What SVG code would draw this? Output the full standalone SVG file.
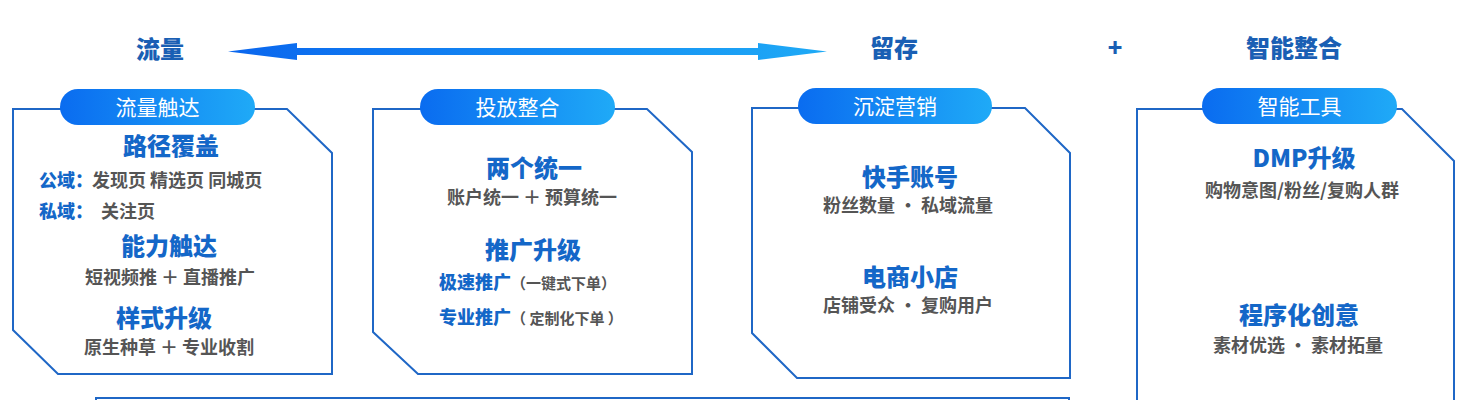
<svg xmlns="http://www.w3.org/2000/svg" width="1467" height="400" viewBox="0 0 1467 400">
<defs>
<linearGradient id="pillGrad" x1="0" y1="0" x2="1" y2="0">
<stop offset="0" stop-color="#0a6cf0"/>
<stop offset="1" stop-color="#1faaf7"/>
</linearGradient>
<linearGradient id="arrowGrad" x1="228" y1="0" x2="827" y2="0" gradientUnits="userSpaceOnUse">
<stop offset="0" stop-color="#0a66ee"/>
<stop offset="1" stop-color="#1eaaf6"/>
</linearGradient>
<style>
text{font-family:"Noto Sans CJK SC","Noto Sans",sans-serif;}
.title{font-size:24px;font-weight:900;fill:#1a5fb4;text-anchor:middle;}
.box{fill:#fff;stroke:#1f67c6;stroke-width:2;}
.pill{fill:url(#pillGrad);}
.pilltxt{font-size:21px;fill:#fff;text-anchor:middle;}
.h{font-size:24px;font-weight:900;fill:#1467c8;text-anchor:middle;}
.s{font-size:18px;font-weight:bold;fill:#555;text-anchor:middle;}
.sl{font-size:18px;font-weight:bold;fill:#555;}
.bl{font-size:18px;font-weight:900;fill:#1467c8;}
.sm{font-size:15px;font-weight:bold;fill:#555;}
</style>
</defs>
<rect width="1467" height="400" fill="#fff"/>

<g id="titles">
<text class="title" x="160" y="58">流量</text>
<text class="title" x="894" y="57">留存</text>
<text class="title" x="1115" y="57">+</text>
<text class="title" x="1294" y="57">智能整合</text>
</g>

<g id="connectors">
<polygon fill="url(#arrowGrad)" points="228,51.5 297,43 297,48 758,48 758,43 827,51.5 758,60 758,55 297,55 297,60"/>
</g>

<g id="bottom-box">
<path d="M96,402 L96,398 L1069,398 L1069,402" fill="none" stroke="#1f67c6" stroke-width="2"/>
</g>

<g id="node-liuliang">
<path class="box" d="M13,109 L287,109 L332,153 L332,374 L58,374 L13,330 Z"/>
<rect class="pill" x="60" y="89" width="195" height="36" rx="18"/>
<text class="pilltxt" x="157.5" y="114.5">流量触达</text>
<text class="h" x="171" y="155">路径覆盖</text>
<text class="bl" x="39" y="187">公域：</text>
<text class="sl" x="92" y="187">发现页 精选页 同城页</text>
<text class="bl" x="39" y="218">私域：</text>
<text class="sl" x="101" y="218">关注页</text>
<text class="h" x="169" y="255">能力触达</text>
<text class="s" x="170" y="284">短视频推 ＋ 直播推广</text>
<text class="h" x="164" y="327">样式升级</text>
<text class="s" x="169" y="354">原生种草 ＋ 专业收割</text>
</g>

<g id="node-toufang">
<path class="box" d="M373,109 L647,109 L692,152 L692,374 L418,374 L373,332 Z"/>
<rect class="pill" x="420" y="89" width="195" height="36" rx="18"/>
<text class="pilltxt" x="517.5" y="114.5">投放整合</text>
<text class="h" x="534" y="177">两个统一</text>
<text class="s" x="532" y="204">账户统一 ＋ 预算统一</text>
<text class="h" x="533" y="259">推广升级</text>
<text x="439" y="289"><tspan class="bl">极速推广</tspan><tspan class="sm">（一键式下单）</tspan></text>
<text x="439" y="324"><tspan class="bl">专业推广</tspan><tspan class="sm">（ 定制化下单 ）</tspan></text>
</g>

<g id="node-chendian">
<path class="box" d="M752,108 L1025,108 L1070,153 L1070,378 L797,378 L752,333 Z"/>
<rect class="pill" x="798" y="88" width="194" height="36" rx="18"/>
<text class="pilltxt" x="895" y="113.5">沉淀营销</text>
<text class="h" x="910" y="186">快手账号</text>
<text class="s" x="908" y="212">粉丝数量 • 私域流量</text>
<text class="h" x="910" y="286">电商小店</text>
<text class="s" x="908" y="312">店铺受众 • 复购用户</text>
</g>

<g id="node-zhineng">
<path class="box" d="M1137,410 L1137,109 L1402,109 L1454,161 L1454,410"/>
<rect class="pill" x="1202" y="88" width="195" height="36" rx="18"/>
<text class="pilltxt" x="1299.5" y="113.5">智能工具</text>
<text class="h" x="1304" y="167">DMP升级</text>
<text class="s" x="1302" y="197">购物意图/粉丝/复购人群</text>
<text class="h" x="1299" y="324">程序化创意</text>
<text class="s" x="1298" y="352">素材优选 • 素材拓量</text>
</g>
</svg>
